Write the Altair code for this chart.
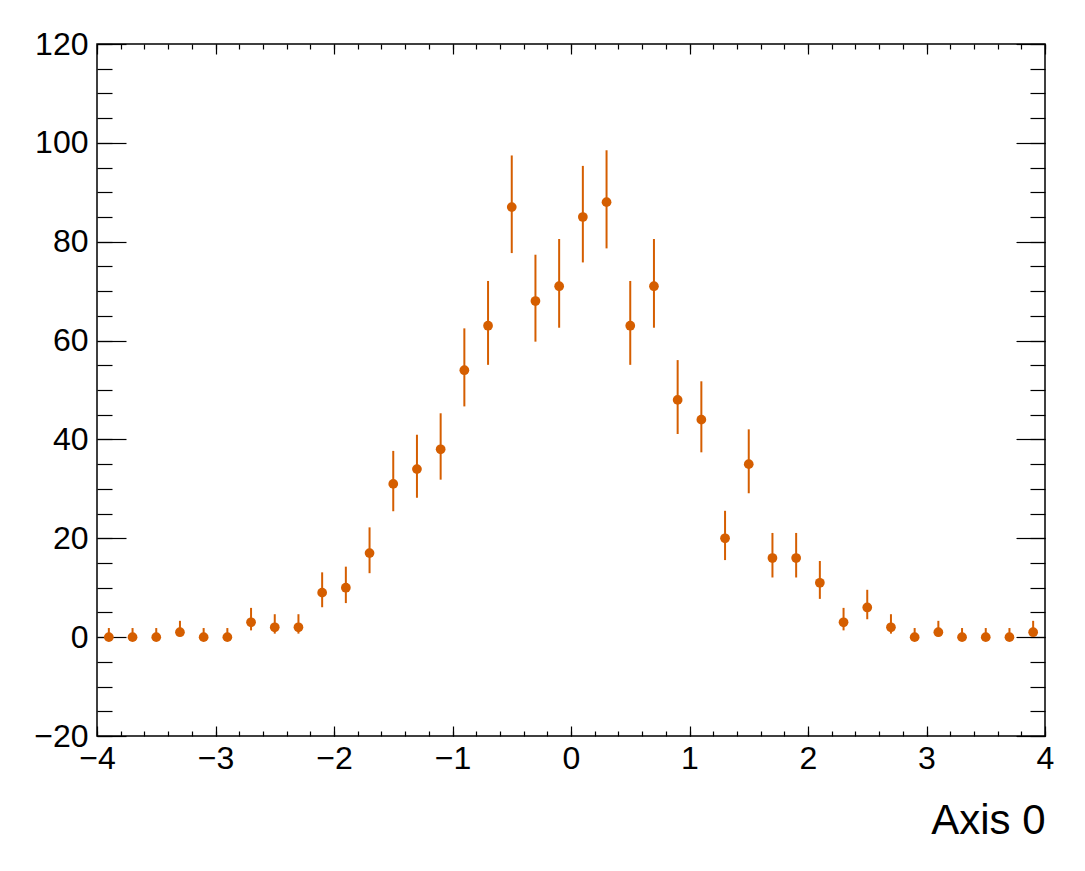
import altair as alt
import pandas as pd

# Bin centers (40 bins of width 0.2 from -4 to 4)
x_centers = [-3.9, -3.7, -3.5, -3.3, -3.1, -2.9, -2.7, -2.5, -2.3, -2.1,
             -1.9, -1.7, -1.5, -1.3, -1.1, -0.9, -0.7, -0.5, -0.3, -0.1,
             0.1, 0.3, 0.5, 0.7, 0.9, 1.1, 1.3, 1.5, 1.7, 1.9,
             2.1, 2.3, 2.5, 2.7, 2.9, 3.1, 3.3, 3.5, 3.7, 3.9]
counts = [0, 0, 0, 1, 0, 0, 3, 2, 2, 9,
          10, 17, 31, 34, 38, 54, 63, 87, 68, 71,
          85, 88, 63, 71, 48, 44, 20, 35, 16, 16,
          11, 3, 6, 2, 0, 1, 0, 0, 0, 1]
# asymmetric (Poisson) error bars
err_low = [0, 0, 0, 0.83, 0, 0, 1.63, 1.29, 1.29, 2.95,
           3.11, 4.06, 5.53, 5.80, 6.14, 7.32, 7.91, 9.30, 8.22, 8.40,
           9.19, 9.35, 7.91, 8.40, 6.90, 6.61, 4.41, 5.89, 3.93, 3.93,
           3.26, 1.63, 2.38, 1.29, 0, 0.83, 0, 0, 0, 0.83]
err_high = [1.84, 1.84, 1.84, 2.30, 1.84, 1.84, 2.92, 2.64, 2.64, 4.11,
            4.26, 5.21, 6.68, 6.95, 7.29, 8.47, 9.06, 10.45, 9.37, 9.55,
            10.34, 10.50, 9.06, 9.55, 8.05, 7.76, 5.56, 7.04, 5.08, 5.08,
            4.41, 2.92, 3.58, 2.64, 1.84, 2.30, 1.84, 1.84, 1.84, 2.30]

x_major = [-4, -3, -2, -1, 0, 1, 2, 3, 4]
x_minor = [round(-4 + 0.2 * i, 1) for i in range(41)]
y_major = [-20, 0, 20, 40, 60, 80, 100, 120]
y_minor = list(range(-20, 121, 5))

df = pd.DataFrame({
    "x": x_centers,
    "y": counts,
    "lo": [c - e for c, e in zip(counts, err_low)],
    "hi": [c + e for c, e in zip(counts, err_high)],
})

W, H = 948, 692
COLOR = "#d55e00"
FONT = "Liberation Sans"

xs = alt.Scale(domain=[-4, 4], nice=False, zero=False)
ys = alt.Scale(domain=[-20, 120], nice=False, zero=False)

base = alt.Chart(df)

# Layer 1: error bars + label axes
errbars = base.mark_rule(color=COLOR, strokeWidth=2).encode(
    x=alt.X("x:Q", scale=xs, axis=alt.Axis(
        orient="bottom", values=x_major, ticks=False, domain=False, grid=False,
        labelFont=FONT, labelFontSize=32, labelColor="black", labelPadding=7,
        labelFlush=False, format="d",
        title="Axis 0", titleFont=FONT, titleFontSize=42, titleFontWeight="normal",
        titleColor="black", titleX=W, titleY=97, titleAlign="right",
        titleBaseline="alphabetic", titleAnchor="end")),
    y=alt.Y("lo:Q", scale=ys, axis=alt.Axis(
        orient="left", values=y_major, ticks=False, domain=False, grid=False,
        labelFont=FONT, labelFontSize=32, labelColor="black", labelPadding=9,
        labelFlush=False, format="d", title=None)),
    y2="hi:Q",
)

def tick_layer(xorient, xvals, xlen, yorient, yvals, ylen):
    return base.mark_point(opacity=0).encode(
        x=alt.X("x:Q", scale=xs, axis=alt.Axis(
            orient=xorient, values=xvals, tickSize=xlen, offset=-xlen,
            labels=False, domain=False, grid=False, tickColor="black",
            tickWidth=1.2, title=None)),
        y=alt.Y("y:Q", scale=ys, axis=alt.Axis(
            orient=yorient, values=yvals, tickSize=ylen, offset=-ylen,
            labels=False, domain=False, grid=False, tickColor="black",
            tickWidth=1.2, title=None)),
    )

points = base.mark_circle(color=COLOR, size=95, opacity=1).encode(
    x=alt.X("x:Q", scale=xs, axis=alt.Axis(
        orient="bottom", values=x_major, tickSize=10, offset=-10,
        labels=False, domain=False, grid=False, tickColor="black",
        tickWidth=1.2, title=None)),
    y=alt.Y("y:Q", scale=ys, axis=alt.Axis(
        orient="left", values=y_major, tickSize=29, offset=-29,
        labels=False, domain=False, grid=False, tickColor="black",
        tickWidth=1.2, title=None)),
)

l3 = tick_layer("bottom", x_minor, 5, "left", y_minor, 15)
l4 = tick_layer("top", x_major, 10, "right", y_major, 29)
l5 = tick_layer("top", x_minor, 5, "right", y_minor, 15)

chart = alt.layer(errbars, points, l3, l4, l5).resolve_scale(
    x="independent", y="independent"
).resolve_axis(
    x="independent", y="independent"
).properties(
    width=W, height=H,
    autosize=alt.AutoSizeParams(type="none"),
    padding={"left": 89, "top": 36, "right": 20, "bottom": 105},
    background="white",
).configure_view(
    stroke="black", strokeWidth=1.5
)

chart.save("out.html", embed_options={"renderer": "svg", "actions": False})
